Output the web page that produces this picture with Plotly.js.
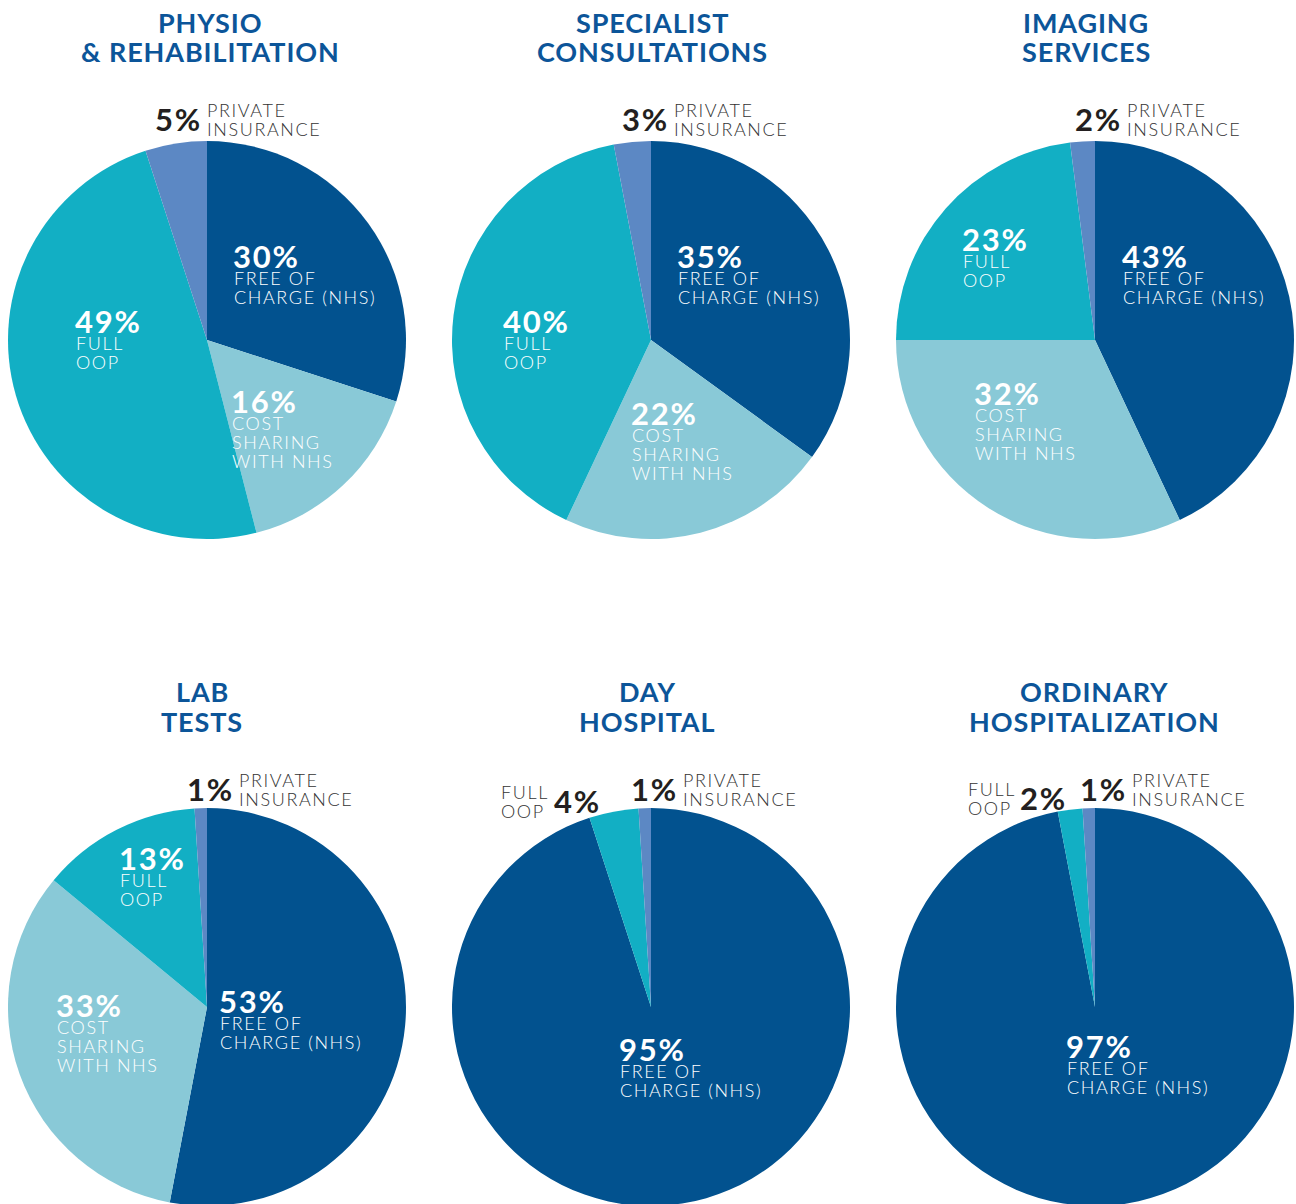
<!DOCTYPE html>
<html><head><meta charset="utf-8">
<script src="https://cdn.plot.ly/plotly-3.0.1.min.js"></script>
<style>
html,body{margin:0;padding:0;overflow:hidden;background:#fff}
#chart{width:1296px;height:1212px}
text.annotation-text[style*="font-size: 18px"]{letter-spacing:1.6px}
text.annotation-text[style*="font-size: 27px"]{letter-spacing:0.9px}
text.annotation-text[style*="font-size: 31px"]{letter-spacing:1.8px}
</style>
</head><body><div id="chart"></div>
<script>
const categories = ['Free of charge (NHS)', 'Cost sharing with NHS', 'Full OOP', 'Private insurance'];
const titles = [['PHYSIO', '& REHABILITATION'], ['SPECIALIST', 'CONSULTATIONS'], ['IMAGING', 'SERVICES'],
                ['LAB', 'TESTS'], ['DAY', 'HOSPITAL'], ['ORDINARY', 'HOSPITALIZATION']];
const physio = [30, 16, 49, 5];
const specialist = [35, 22, 40, 3];
const imaging = [43, 32, 23, 2];
const lab = [53, 33, 13, 1];
const dayHospital = [95, 0, 4, 1];
const ordinary = [97, 0, 2, 1];
const series = [physio, specialist, imaging, lab, dayHospital, ordinary];

const colors = ['#02528f', '#89c9d7', '#12afc4', '#5c88c4'];
const W = 1296, H = 1212;
const px = x => x / W, py = y => 1 - y / H;
const centersX = [207, 651, 1095];
const tops = [141, 808];
const R = 199;
const titleX = [[210, 652, 1086], [202, 647, 1094]];
const titleY = [[22, 52], [691, 721]];

const data = series.map((vals, i) => {
  const row = Math.floor(i / 3), col = i % 3;
  const cx = centersX[col], top = tops[row];
  return {
    type: 'pie', labels: categories, values: vals, sort: false, direction: 'clockwise', rotation: 0,
    marker: {colors: colors, line: {width: 0}}, textinfo: 'none', hoverinfo: 'label+percent',
    domain: {x: [px(cx - R), px(cx + R)], y: [py(top + 2 * R), py(top)]}, showlegend: false
  };
});

const ann = [];
const FONT = 'Lato, "Open Sans", sans-serif';
function txt(text, x, y, size, color, weight, xanchor) {
  ann.push({text: text, x: px(x), y: py(y), xref: 'paper', yref: 'paper', showarrow: false,
    xanchor: xanchor || 'left', yanchor: 'middle', borderpad: 0,
    font: {family: FONT, size: size, color: color, weight: weight}});
}
titles.forEach((t, i) => {
  const row = Math.floor(i / 3), col = i % 3;
  t.forEach((line, k) => txt(line, titleX[row][col], titleY[row][k], 27, '#0c5599', 700, 'center'));
});
const PCT = 31, SUB = 18, LH = 19;
const subLines = [['FREE OF', 'CHARGE (NHS)'], ['COST', 'SHARING', 'WITH NHS'], ['FULL', 'OOP'], ['PRIVATE', 'INSURANCE']];
// inside labels: [chart, category, x, y of percentage]
const inside = [[0, 0, 233, 256], [0, 1, 231, 401], [0, 2, 75, 321],
                [1, 0, 677, 256], [1, 1, 631, 413], [1, 2, 503, 321],
                [2, 0, 1122, 256], [2, 1, 974, 393], [2, 2, 962, 239],
                [3, 0, 219, 1001], [3, 1, 56, 1005], [3, 2, 119, 858],
                [4, 0, 619, 1049], [5, 0, 1066, 1046]];
inside.forEach(([c, k, x, y]) => {
  txt(series[c][k] + '%', x - 1, y, PCT, '#ffffff', 700);
  subLines[k].forEach((l, j) => txt(l, x, y + 22 + j * LH, SUB, '#ffffff', 300));
});
// private insurance outside labels: [chart, right edge of pct, y]
const priv = [[0, 203, 119], [1, 670, 119], [2, 1123, 119], [3, 235, 789], [4, 679, 789], [5, 1128, 789]];
priv.forEach(([c, x, y]) => {
  txt(series[c][3] + '%', x, y, PCT, '#231f20', 700, 'right');
  txt(subLines[3][0], x + 3, y - 9, SUB, '#333333', 300);
  txt(subLines[3][1], x + 3, y + 10, SUB, '#333333', 300);
});
// full OOP outside labels for hospital charts: [chart, x of FULL, x of pct, y]
const oopOut = [[4, 500, 553, 801], [5, 967, 1019, 798]];
oopOut.forEach(([c, xl, xp, y]) => {
  txt(subLines[2][0], xl, y - 9, SUB, '#333333', 300);
  txt(subLines[2][1], xl, y + 10, SUB, '#333333', 300);
  txt(series[c][2] + '%', xp, y, PCT, '#231f20', 700);
});

Plotly.newPlot('chart', data, {
  width: W, height: H, margin: {l: 0, r: 0, t: 0, b: 0},
  paper_bgcolor: '#ffffff', plot_bgcolor: '#ffffff', annotations: ann, showlegend: false
}, {staticPlot: true});
</script></body></html>
